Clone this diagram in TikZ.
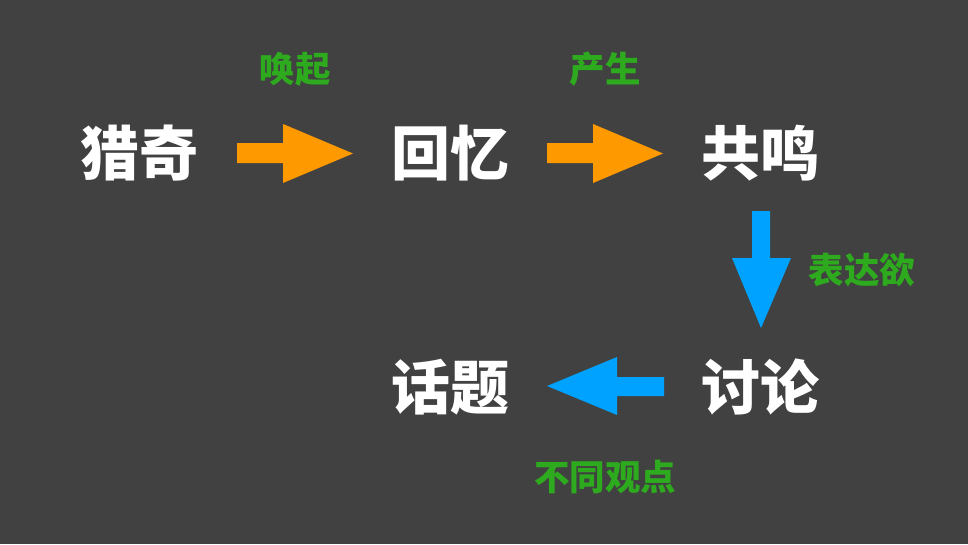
\documentclass[tikz,border=0pt]{standalone}
\usepackage{fontspec}
\newfontfamily\cjk{Noto Sans CJK SC}
\definecolor{bg}{HTML}{414141}
\definecolor{org}{HTML}{FF9900}
\definecolor{blu}{HTML}{00A2FF}
\definecolor{grn}{HTML}{2DAA1E}
\tikzset{
  big/.style={text=white, font=\cjk\bfseries\fontsize{59}{62}\selectfont, inner sep=0pt},
  lbl/.style={text=grn, font=\cjk\bfseries\fontsize{35.5}{38}\selectfont, inner sep=0pt},
}
\begin{document}
\begin{tikzpicture}[x=1pt,y=-1pt]
\fill[bg] (0,0) rectangle (968,544);
\useasboundingbox (0,0) rectangle (968,544);
\node[big] (a) at (139,153) {猎奇};
\node[big] (b) at (450,153) {回忆};
\node[big] (c) at (760,153) {共鸣};
\node[big] (d) at (760,387) {讨论};
\node[big] (e) at (450,387) {话题};
\node[lbl] (la) at (295,69) {唤起};
\node[lbl] (lb) at (605,69) {产生};
\node[lbl] (lc) at (862,270) {表达欲};
\node[lbl] (ld) at (605,477) {不同观点};
% arrows
\fill[org] (237,143) -- (283,143) -- (283,124) -- (353,153.5) -- (283,183) -- (283,163) -- (237,163) -- cycle;
\fill[org] (547,143) -- (593,143) -- (593,124) -- (663,153.5) -- (593,183) -- (593,163) -- (547,163) -- cycle;
\fill[blu] (752,211) -- (770,211) -- (770,258) -- (791,258) -- (761,328) -- (732,258) -- (752,258) -- cycle;
\fill[blu] (664,377) -- (617,377) -- (617,357) -- (547,386) -- (617,415) -- (617,396) -- (664,396) -- cycle;
\end{tikzpicture}
\end{document}
